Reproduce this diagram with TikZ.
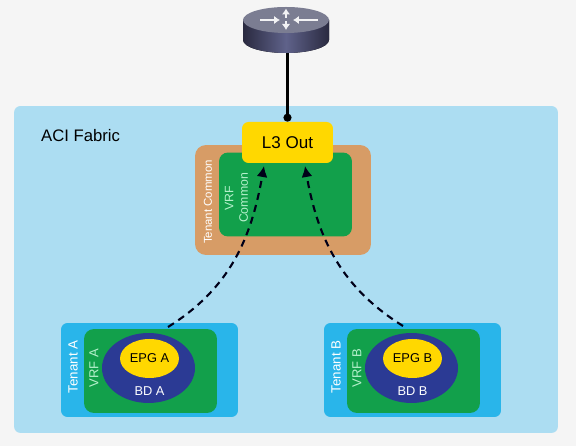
\documentclass[tikz,border=0pt]{standalone}
\usepackage{fontspec}
\setmainfont{Liberation Sans}
\usetikzlibrary{calc, positioning, arrows.meta, shapes.geometric}

\definecolor{fabricblue}{HTML}{ACDDF2}
\definecolor{tenantblue}{HTML}{29B5EA}
\definecolor{tenantorange}{HTML}{D79C66}
\definecolor{vrfgreen}{HTML}{12A04B}
\definecolor{bdnavy}{HTML}{2B3A94}
\definecolor{epgyellow}{HTML}{FFD800}
\definecolor{vrftext}{HTML}{B5F0CC}
\definecolor{routerdark}{HTML}{2A2A40}
\definecolor{routermid}{HTML}{5F628A}
\definecolor{routertop}{HTML}{7B7D92}

\tikzset{
    boxnode/.style={rectangle, rounded corners=1.3mm, inner sep=0pt},
    whitelabel/.style={rotate=90, font=\fontsize{6.5}{8}\selectfont, color=white},
    greenlabel/.style={rotate=90, font=\fontsize{7}{8.2}\selectfont, color=vrftext, align=center},
    dashlink/.style={-{Latex[length=2.2mm, width=2.2mm]}, line width=1.2pt, dash pattern=on 4pt off 3pt, color=black!90!blue},
    routerarrow/.style={white!90!routertop, line width=0.9pt, -{Latex[length=1.2mm, width=1.7mm]}},
}

\begin{document}
\begin{tikzpicture}[x=0.02cm, y=0.02cm]
    \useasboundingbox (0,0) rectangle (576,446);
    \fill[black!4] (0,0) rectangle (576,446);

    % Fabric background
    \node[boxnode, fill=fabricblue, minimum width=10.88cm, minimum height=6.54cm] (fabric) at (286,176.5) {};
    \node[font=\fontsize{9.5}{11}\selectfont, anchor=west] (fabriclabel) at (35,310) {ACI Fabric};

    % Tenant Common with its VRF, L3 Out on top
    \node[boxnode, rounded corners=2.2mm, fill=tenantorange, minimum width=3.52cm, minimum height=2.2cm] (tenantc) at (283,246) {};
    \node[boxnode, rounded corners=1.8mm, fill=vrfgreen, minimum width=2.66cm, minimum height=1.68cm] (vrfc) at (285.5,251.5) {};
    \node[boxnode, fill=epgyellow, minimum width=1.82cm, minimum height=0.82cm,
          font=\fontsize{9.7}{12}\selectfont] (l3out) at (287.5,303.5) {L3 Out};
    \node[whitelabel] (tenantclabel) at (208,244) {Tenant Common};
    \node[greenlabel] (vrfclabel) at (236.5,248) {VRF\\Common};

    % Router: body, top face, four arrows
    \coordinate (router) at (286,426);
    \fill[left color=routerdark, right color=routerdark, middle color=routermid]
        (243,426) -- (243,406) arc[start angle=180, end angle=360, x radius=43, y radius=13] -- (329,426) -- cycle;
    \fill[color=routertop] (router) ellipse[x radius=43, y radius=13];
    \draw[routerarrow] ([yshift=0.04cm] router) -- ([yshift=0.23cm] router);
    \draw[routerarrow] ([yshift=-0.02cm] router) -- ([yshift=-0.2cm] router);
    \draw[routerarrow] ([xshift=-0.52cm] router) -- ([xshift=-0.12cm] router);
    \draw[routerarrow] ([xshift=0.64cm] router) -- ([xshift=0.14cm] router);
    \coordinate (routerbase) at (287.5,393);
    \draw[line width=1.2pt, -{Circle[length=1.6mm]}] (routerbase) -- (l3out.north);

    % Tenants A and B
    \foreach \t/\x in {A/149.5, B/412.5} {
        \node[boxnode, fill=tenantblue, minimum width=3.54cm, minimum height=1.88cm] (tenant\t) at (\x,76) {};
        \node[boxnode, rounded corners=2mm, fill=vrfgreen, minimum width=2.66cm, minimum height=1.68cm] (vrf\t) at (\x+1,75) {};
        \node[ellipse, fill=bdnavy, minimum width=1.86cm, minimum height=1.4cm, inner sep=0pt] (bd\t) at (\x-1,78) {};
        \node[ellipse, fill=epgyellow, minimum width=1.18cm, minimum height=0.78cm, inner sep=0pt,
              font=\fontsize{7.3}{10}\selectfont] (epg\t) at (\x,87.5) {EPG \t};
        \node[font=\fontsize{7.3}{10}\selectfont, color=white] (bdlabel\t) at (\x,55) {BD \t};
        \node[whitelabel, font=\fontsize{7.6}{9}\selectfont] (tenantlabel\t) at (\x-76.5,79) {Tenant \t};
        \node[greenlabel, font=\fontsize{7.4}{9}\selectfont] (vrflabel\t) at (\x-55.5,78) {VRF \t};
    }

    % Dashed links up to L3 Out
    \coordinate (linkA) at (168,119);
    \coordinate (linkB) at (403,120);
    \coordinate (tipA) at (264,280);
    \coordinate (tipB) at (305,280);
    \draw[dashlink] (linkA) to[out=32, in=-100] (tipA);
    \draw[dashlink] (linkB) to[out=148, in=-80] (tipB);
\end{tikzpicture}
\end{document}
